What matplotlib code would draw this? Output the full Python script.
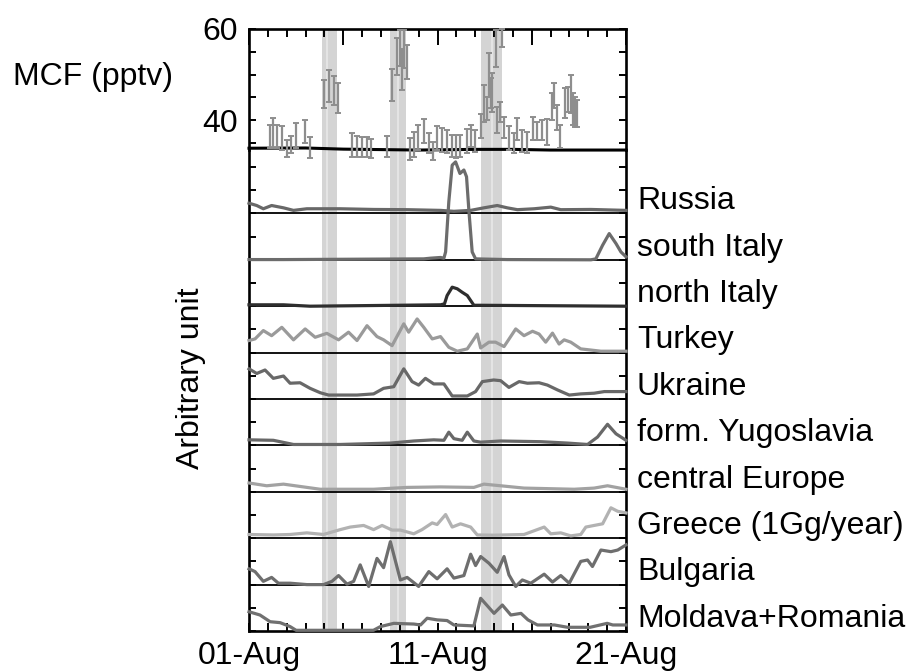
import matplotlib
matplotlib.use("Agg")
import matplotlib.pyplot as plt
from matplotlib.ticker import MultipleLocator, FixedLocator, FixedFormatter, NullFormatter
import numpy as np

plt.rcParams['font.family'] = ['Liberation Sans', 'DejaVu Sans']

# ---------------- data ----------------
# MCF observations (day since 01-Aug, pptv, error)
mcf_day = [1.12, 1.26, 1.51, 1.74, 2.0, 2.22, 2.5, 2.98, 3.24, 3.99,
           4.22, 4.49, 4.72, 5.46, 5.73, 5.99, 6.26, 6.47, 7.32, 7.59,
           7.86, 8.0, 8.12, 8.24, 8.39, 8.56, 8.74, 8.95, 9.27, 9.54,
           9.77, 9.98, 10.25, 10.51, 10.78, 10.96, 11.22, 11.54, 11.76, 11.97,
           12.29, 12.46, 12.61, 12.73, 12.82, 12.91, 13.09, 13.18, 13.32, 13.44,
           13.53, 13.79, 14.06, 14.24, 14.5, 14.77, 15.09, 15.3, 15.53, 15.83,
           16.05, 16.19, 16.33, 16.51, 16.76, 16.9, 17.07, 17.2, 17.3, 17.39]
mcf_val = [36.34, 37.08, 36.34, 36.05, 33.77, 34.58, 36.53, 37.44, 33.96, 45.68,
           47.5, 46.49, 44.9, 34.5, 34.2, 34.13, 34.0, 33.67, 34.2, 47.66,
           53.93, 55.8, 51.07, 55.6, 52.7, 33.6, 34.68, 36.16, 37.58, 34.88,
           33.22, 36.05, 35.6, 35.24, 34.3, 34.14, 34.3, 35.32, 36.5, 35.4,
           38.65, 43.66, 42.56, 49.89, 45.87, 46.04, 55.7, 40.0, 41.83, 58.05,
           38.35, 36.05, 34.88, 37.99, 35.42, 35.06, 38.16, 37.62, 37.8, 37.33,
           42.94, 45.39, 40.55, 36.34, 43.67, 44.57, 45.68, 42.45, 41.83, 41.4]
mcf_err = [2.56, 3.3, 2.56, 2.64, 1.84, 1.9, 2.75, 2.56, 2.38, 3.11,
           3.49, 3.19, 3.3, 2.58, 2.28, 2.2, 2.2, 2.09, 2.28, 3.48,
           4.04, 4.0, 4.48, 4.2, 3.77, 2.39, 2.75, 2.75, 2.58, 2.2,
           2.01, 2.64, 2.57, 2.56, 2.38, 2.56, 2.38, 2.64, 2.38, 2.38,
           2.67, 4.03, 2.56, 4.77, 3.3, 4.22, 4.0, 2.92, 2.19, 1.95,
           2.37, 2.64, 2.2, 2.39, 2.38, 2.38, 2.56, 2.02, 2.2, 2.83,
           2.94, 2.82, 2.75, 2.56, 3.3, 2.75, 4.21, 3.55, 3.3, 3.0]

# background MCF line
bgl_day = [0, 3, 5, 9, 12, 14, 16, 20]
bgl_val = [33.8, 33.85, 33.6, 33.4, 33.55, 33.55, 33.4, 33.4]

# source-region traces (arbitrary unit)
ru_d = [0.0, 0.41, 0.76, 1.2, 1.83, 2.36, 3.07, 4.84, 6.61, 8.39, 10.16, 10.87,
        11.76, 12.46, 13.17, 13.7, 14.24, 15.13, 16.01, 16.54, 18.14, 20.0]
ru_v = [0.44, 0.34, 0.2, 0.34, 0.24, 0.13, 0.2, 0.2, 0.17, 0.16, 0.13, 0.09,
        0.13, 0.24, 0.34, 0.24, 0.16, 0.2, 0.27, 0.16, 0.17, 0.13]

si_d = [0.0, 1.83, 9.27, 9.63, 10.16, 10.34, 10.43, 10.6, 10.78, 10.96, 11.19, 11.4,
        11.54, 11.67, 11.84, 12.02, 13.7, 18.14, 18.4, 18.76, 19.11, 19.47, 19.73, 20.0]
si_v = [0.01, 0.01, 0.04, 0.07, 0.1, 0.07, 0.34, 2.5, 4.08, 4.22, 3.72, 3.87,
        3.58, 2.07, 0.34, 0.04, 0.01, 0.0, 0.04, 0.63, 1.13, 0.7, 0.34, 0.13]

ni_d = [0.0, 1.83, 3.24, 10.16, 10.37, 10.51, 10.78, 11.05, 11.31, 11.58, 11.93, 12.29, 20.0]
ni_v = [0.06, 0.06, 0.0, 0.06, 0.1, 0.46, 0.82, 0.75, 0.6, 0.46, 0.04, 0.04, 0.0]

tu_d = [0.0, 0.32, 0.76, 1.2, 1.74, 2.36, 2.98, 3.51, 4.13, 4.75, 5.28, 5.73, 6.26,
        6.79, 7.14, 7.59, 8.21, 8.47, 8.92, 9.27, 9.72, 10.16, 10.6, 11.05, 11.58,
        12.11, 12.29, 12.73, 13.08, 13.53, 14.15, 14.59, 15.04, 15.39, 15.74, 16.1,
        16.45, 16.72, 17.07, 17.6, 18.14, 18.67, 20.0]
tu_v = [0.52, 0.59, 0.95, 0.73, 1.09, 0.55, 1.02, 0.66, 0.83, 0.55, 0.88, 0.52, 1.16,
        0.69, 0.55, 0.30, 1.24, 0.88, 1.45, 1.09, 0.59, 0.69, 0.23, 0.06, 0.16,
        0.80, 0.20, 0.45, 0.45, 0.26, 1.02, 0.73, 0.92, 0.80, 0.45, 0.84,
        0.37, 0.55, 0.45, 0.16, 0.11, 0.06, 0.06]

uk_d = [0.0, 0.41, 0.85, 1.29, 1.83, 2.18, 2.71, 3.24, 3.78, 4.22, 4.84, 5.73, 6.61,
        7.14, 7.68, 8.21, 8.65, 9.0, 9.36, 9.8, 10.34, 10.78, 11.58, 12.02, 12.38,
        12.98, 13.35, 13.79, 14.33, 14.77, 15.39, 15.83, 16.37, 16.99, 17.6, 18.31,
        18.85, 20.0]
uk_v = [1.3, 1.1, 1.25, 0.89, 0.99, 0.68, 0.70, 0.46, 0.27, 0.17, 0.17, 0.17, 0.22,
        0.46, 0.53, 1.3, 0.75, 0.6, 0.89, 0.65, 0.65, 0.13, 0.13, 0.32, 0.75,
        0.82, 0.79, 0.50, 0.75, 0.68, 0.7, 0.6, 0.39, 0.17, 0.22, 0.25,
        0.32, 0.32]

yu_d = [0.0, 1.29, 2.36, 4.84, 7.5, 8.74, 9.8, 10.34, 10.6, 10.87, 11.31, 11.58,
        11.93, 12.29, 13.35, 15.48, 16.9, 17.96, 18.49, 19.02, 19.47, 20.0]
yu_v = [0.24, 0.22, 0.04, 0.04, 0.1, 0.19, 0.24, 0.22, 0.57, 0.29, 0.22, 0.57,
        0.19, 0.14, 0.19, 0.16, 0.1, 0.04, 0.36, 0.91, 0.5, 0.22]

ce_d = [0.0, 0.94, 1.83, 3.07, 3.78, 6.61, 8.39, 10.16, 11.93, 12.46, 13.35, 14.59,
        17.25, 18.31, 19.02, 20.0]
ce_v = [0.38, 0.26, 0.33, 0.19, 0.11, 0.11, 0.19, 0.21, 0.19, 0.33, 0.26, 0.16,
        0.11, 0.16, 0.26, 0.11]

gr_d = [0.0, 1.29, 2.18, 3.07, 3.95, 4.84, 5.37, 6.08, 6.61, 7.06, 7.59, 8.03, 8.74,
        9.18, 9.72, 9.98, 10.43, 10.78, 11.22, 11.76, 12.11, 12.98, 14.59, 15.66,
        16.01, 16.54, 17.07, 17.6, 17.87, 18.31, 18.76, 19.2, 19.56, 20.0]
gr_v = [0.16, 0.14, 0.16, 0.23, 0.16, 0.37, 0.48, 0.55, 0.37, 0.55, 0.35, 0.35, 0.19,
        0.37, 0.66, 0.59, 1.02, 0.48, 0.62, 0.48, 0.14, 0.13, 0.16, 0.48,
        0.19, 0.23, 0.1, 0.16, 0.48, 0.55, 0.62, 1.31, 1.16, 1.09]

bu_d = [0.0, 0.32, 0.76, 1.2, 1.56, 2.18, 3.07, 3.95, 4.4, 4.75, 5.2, 5.55, 5.9,
        6.35, 6.79, 7.14, 7.5, 8.03, 8.39, 9.0, 9.54, 9.98, 10.51, 10.87, 11.4,
        11.76, 12.02, 12.29, 12.73, 13.17, 13.53, 13.79, 14.15, 14.5, 14.95, 15.66,
        16.1, 16.54, 16.99, 17.6, 17.96, 18.22, 18.67, 19.2, 19.56, 20.0]
bu_v = [0.68, 0.56, 0.14, 0.31, 0.06, 0.06, 0.0, 0.0, 0.14, 0.39, 0.02, 0.14, 0.85,
        -0.08, 1.13, 0.73, 1.85, 0.2, 0.31, -0.08, 0.56, 0.25, 0.68, 0.28, 0.39,
        1.31, 0.82, 1.21, 0.92, 0.53, 1.21, 0.42, -0.08, 0.2, 0.06, 0.45,
        0.11, 0.39, 0.06, 1.0, 1.06, 0.78, 1.49, 1.42, 1.49, 1.71]

mo_d = [0.0, 0.58, 1.12, 1.65, 2.18, 2.5, 6.6, 6.97, 7.68, 8.74, 9.1, 9.45, 9.98,
        10.51, 10.87, 11.93, 12.29, 13.0, 13.44, 13.89, 14.43, 14.8, 15.3, 16.2,
        16.9, 18.1, 19.0, 19.3, 20.0]
mo_v = [0.83, 0.69, 0.4, 0.36, 0.19, 0.03, 0.03, 0.19, 0.33, 0.3, 0.26, 0.55, 0.48,
        0.45, 0.26, 0.22, 1.41, 0.76, 1.12, 0.69, 0.76, 0.48, 0.26, 0.26,
        0.16, 0.16, 0.33, 0.26, 0.26]

regions = ["Russia", "south Italy", "north Italy", "Turkey", "Ukraine",
           "form. Yugoslavia", "central Europe", "Greece (1Gg/year)",
           "Bulgaria", "Moldava+Romania"]
series = [(ru_d, ru_v), (si_d, si_v), (ni_d, ni_v), (tu_d, tu_v), (uk_d, uk_v),
          (yu_d, yu_v), (ce_d, ce_v), (gr_d, gr_v), (bu_d, bu_v), (mo_d, mo_v)]
colors = ["#686868", "#6c6c6c", "#2e2e2e", "#9a9a9a", "#686868",
          "#686868", "#a2a2a2", "#b2b2b2", "#6e6e6e", "#707070"]

# shaded periods (start, end, inner split) in days since 01-Aug
band_start = [3.87, 7.5, 12.3]
band_end = [4.66, 8.35, 13.44]
band_split = [4.13, 7.93, 12.9]

xtick_labels = ["01-Aug", "", "11-Aug", "", "21-Aug"]

# ---------------- figure ----------------
W, H = 910, 671
fig = plt.figure(figsize=(W / 100, H / 100), dpi=100)
L, R = 249 / W, 626 / W
y_top, y_mid, y_bot = 1 - 29 / H, 1 - 150 / H, 1 - 631 / H

ax = fig.add_axes([L, y_bot, R - L, y_mid - y_bot])
axt = fig.add_axes([L, y_mid, R - L, y_top - y_mid], sharex=ax)
for a in (ax, axt):
    a.patch.set_visible(False)
axt.set_zorder(ax.get_zorder() + 1)

n = len(regions)
offsets = [2 * (n - 1 - i) for i in range(n)]
ax.set_xlim(0, 20)
ax.set_ylim(0, (631 - 150) / 23.2)
axt.set_ylim(33.41, 60)

for s, e, m in zip(band_start, band_end, band_split):
    for a in (ax, axt):
        a.axvspan(s, e, color="#d4d4d4", lw=0, zorder=0)
        a.axvline(m, color="#e6e6e6", lw=1.3, zorder=0.5)

# baselines
for off in offsets[:-1]:
    ax.axhline(off, color="black", lw=1.3, zorder=2)

for (d, v), off, c in zip(series, offsets, colors):
    ax.plot(d, np.asarray(v) + off, color=c, lw=2.3, zorder=3, clip_on=False,
            solid_joinstyle="round")

for name, off in zip(regions, offsets):
    ax.text(1.029, off + 0.18, name, transform=ax.get_yaxis_transform(),
            ha="left", va="baseline", fontsize=23, clip_on=False)

# MCF panel
axt.plot(bgl_day, bgl_val, color="black", lw=2.2, clip_on=False, zorder=3)
eb = axt.errorbar(mcf_day, mcf_val, yerr=mcf_err, fmt="none", ecolor="#8e8e8e",
                  elinewidth=1.6, capsize=2.5, capthick=1.4, zorder=4)
for art in list(eb.lines[1]) + list(eb.lines[2]):
    art.set_clip_on(False)

# spines
for a in (ax, axt):
    for sp in a.spines.values():
        sp.set_linewidth(1.9)
ax.spines["top"].set_visible(False)
axt.spines["bottom"].set_visible(False)

# ticks
ax.xaxis.set_major_locator(FixedLocator([0, 5, 10, 15, 20]))
ax.xaxis.set_major_formatter(FixedFormatter(xtick_labels))
ax.xaxis.set_minor_locator(MultipleLocator(1))
ax.tick_params(axis="x", which="both", direction="in", top=False, bottom=True,
               length=5.8, width=1.4, labelsize=23, pad=7)
ax.yaxis.set_major_locator(MultipleLocator(1))
ax.yaxis.set_major_formatter(NullFormatter())
ax.tick_params(axis="y", which="both", direction="in", left=True, right=True,
               length=5, width=1.4)

axt.tick_params(axis="x", which="major", direction="in", top=True, bottom=False,
                labeltop=False, labelbottom=False, length=11.5, width=1.4)
axt.tick_params(axis="x", which="minor", direction="in", top=True, bottom=False,
                length=5.8, width=1.4)
axt.yaxis.set_major_locator(FixedLocator([35, 40, 45, 50, 55, 60]))
axt.yaxis.set_major_formatter(FixedFormatter(["", "40", "", "", "", "60"]))
axt.tick_params(axis="y", direction="in", left=True, right=True, length=5,
                width=1.4, labelsize=23, pad=8)

fig.text(13 / W, 1 - 85 / H, "MCF (pptv)", ha="left", va="baseline", fontsize=23)
fig.text(191 / W, 1 - 378 / H, "Arbitrary unit", rotation=90, ha="center",
         va="center", fontsize=23)

fig.savefig("out.png", dpi=100)
